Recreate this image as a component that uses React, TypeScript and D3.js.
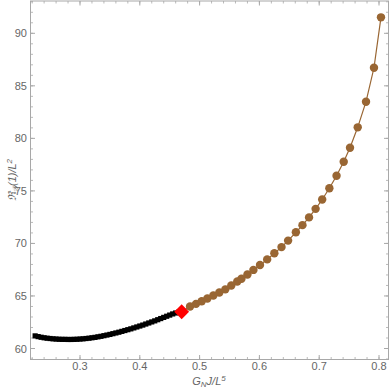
import React from "react";
import * as d3 from "d3";

// black series (squares)
const blackX = [
  0.225, 0.23, 0.235, 0.24, 0.245, 0.25, 0.255, 0.26, 0.265, 0.27, 0.275, 0.28,
  0.285, 0.29, 0.295, 0.3, 0.305, 0.31, 0.315, 0.32, 0.325, 0.33, 0.335, 0.34,
  0.345, 0.35, 0.355, 0.36, 0.365, 0.37, 0.375, 0.38, 0.385, 0.39, 0.395, 0.4,
  0.405, 0.41, 0.415, 0.42, 0.425, 0.43, 0.435, 0.44, 0.445, 0.45, 0.455, 0.46,
  0.465,
];
const blackY = [
  61.2, 61.13, 61.07, 61.02, 60.98, 60.95, 60.92, 60.9, 60.88, 60.87, 60.87,
  60.86, 60.86, 60.87, 60.88, 60.9, 60.92, 60.95, 60.98, 61.02, 61.06, 61.11,
  61.16, 61.22, 61.28, 61.34, 61.41, 61.48, 61.55, 61.63, 61.71, 61.79, 61.87,
  61.96, 62.05, 62.14, 62.23, 62.33, 62.43, 62.53, 62.63, 62.74, 62.85, 62.96,
  63.07, 63.18, 63.29, 63.38, 63.45,
];

// critical point (red diamond)
const redX = 0.47;
const redY = 63.5;

// brown series (dots joined by a line)
const brownX = [
  0.47, 0.484, 0.494, 0.5035, 0.513, 0.523, 0.533, 0.543, 0.553, 0.563, 0.57,
  0.58, 0.59, 0.601, 0.613, 0.625, 0.637, 0.648, 0.661, 0.672, 0.683, 0.694,
  0.705, 0.717, 0.729, 0.741, 0.7515, 0.7644, 0.7783, 0.7916, 0.8033,
];
const brownY = [
  63.5, 64.0, 64.25, 64.5, 64.76, 65.04, 65.33, 65.63, 65.99, 66.37, 66.64,
  67.05, 67.48, 67.95, 68.48, 69.06, 69.65, 70.27, 71.06, 71.74, 72.48, 73.29,
  74.18, 75.25, 76.44, 77.77, 79.11, 81.05, 83.49, 86.72, 91.52,
];

const xTicks = [0.3, 0.4, 0.5, 0.6, 0.7, 0.8];
const yTicks = [60, 65, 70, 75, 80, 85, 90];

const W = 390;
const H = 389;
const left = 30.5;
const right = 388.5;
const top = 1;
const bottom = 359.5;

export default function App() {
  const x = d3.scaleLinear().domain([0.3, 0.8]).range([80, 379]);
  const y = d3.scaleLinear().domain([60, 90]).range([348.5, 33.3]);

  const xMinor = d3.range(0.22, 0.815, 0.02).filter((v) => x(v) > left && x(v) < right);
  const yMinor = d3.range(59, 93.5, 1).filter((v) => y(v) < bottom && y(v) > top);

  const brownLine = d3
    .line<number>()
    .x((d, i) => x(brownX[i]))
    .y((d, i) => y(brownY[i]))(brownY);

  const frame = "#a8a8a8";
  const txt = "#666";
  const brown = "#996633";

  return (
    <svg
      width={W}
      height={H}
      style={{ position: "absolute", left: 0, top: 0, background: "#fff" }}
      fontFamily="'Liberation Sans', Arial, sans-serif"
    >
      {/* minor ticks */}
      {xMinor.map((v, i) => (
        <g key={"xm" + i} stroke={frame} strokeWidth={0.8}>
          <line x1={x(v)} x2={x(v)} y1={bottom} y2={bottom - 2.5} />
          <line x1={x(v)} x2={x(v)} y1={top} y2={top + 2.5} />
        </g>
      ))}
      {yMinor.map((v, i) => (
        <g key={"ym" + i} stroke={frame} strokeWidth={0.8}>
          <line x1={left} x2={left + 2.5} y1={y(v)} y2={y(v)} />
          <line x1={right} x2={right - 2.5} y1={y(v)} y2={y(v)} />
        </g>
      ))}
      {/* major ticks + labels */}
      {xTicks.map((v) => (
        <g key={"x" + v}>
          <line x1={x(v)} x2={x(v)} y1={bottom} y2={bottom - 4.5} stroke={frame} />
          <line x1={x(v)} x2={x(v)} y1={top} y2={top + 4.5} stroke={frame} />
          <text x={x(v)} y={370} textAnchor="middle" fontSize={11} fill={txt}>
            {v}
          </text>
        </g>
      ))}
      {yTicks.map((v) => (
        <g key={"y" + v}>
          <line x1={left} x2={left + 4.5} y1={y(v)} y2={y(v)} stroke={frame} />
          <line x1={right} x2={right - 4.5} y1={y(v)} y2={y(v)} stroke={frame} />
          <text x={27} y={y(v) + 4} textAnchor="end" fontSize={11} fill={txt}>
            {v}
          </text>
        </g>
      ))}
      <rect
        x={left}
        y={top}
        width={right - left}
        height={bottom - top}
        fill="none"
        stroke={frame}
      />

      {/* axis labels */}
      <text x={209} y={385} textAnchor="middle" fontSize={11} fill={txt} fontStyle="italic">
        G<tspan fontSize={8} dy={2}>N</tspan>
        <tspan dy={-2}>J/L</tspan>
        <tspan fontSize={8} dy={-4}>5</tspan>
      </text>
      <text
        transform="translate(16,180) rotate(-90)"
        textAnchor="middle"
        fontSize={11}
        fill={txt}
        fontStyle="italic"
      >
        ℜ<tspan fontSize={8} dy={2}>𝒴</tspan>
        <tspan dy={-2}>(1)/L</tspan>
        <tspan fontSize={8} dy={-4}>2</tspan>
      </text>

      {/* black squares */}
      {blackX.map((v, i) => (
        <rect key={"b" + i} x={x(v) - 2.6} y={y(blackY[i]) - 2.6} width={5.2} height={5.2} fill="#000" />
      ))}

      {/* brown line and dots */}
      <path d={brownLine || ""} fill="none" stroke={brown} strokeWidth={1.2} />
      {brownX.slice(1).map((v, i) => (
        <circle key={"c" + i} cx={x(v)} cy={y(brownY[i + 1])} r={4.2} fill={brown} />
      ))}

      {/* red diamond */}
      <path
        d={d3.symbol(d3.symbolSquare, 110)() || ""}
        transform={`translate(${x(redX)},${y(redY)}) rotate(45)`}
        fill="#ff0000"
      />
    </svg>
  );
}
